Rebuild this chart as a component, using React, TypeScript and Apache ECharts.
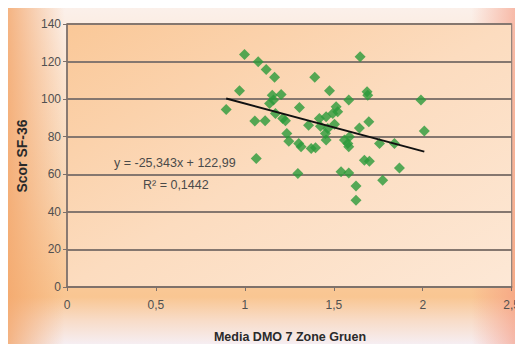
import React, { useEffect, useRef } from "react";
import * as echarts from "echarts";

// Mean DMO (7 Gruen zones) per patient
const dmoValues = [
  0.895, 0.97, 0.998, 1.056, 1.064, 1.075, 1.114, 1.12, 1.139, 1.154,
  1.167, 1.161, 1.172, 1.204, 1.213, 1.228, 1.236, 1.247, 1.298, 1.307,
  1.303, 1.316, 1.358, 1.373, 1.397, 1.393, 1.419, 1.425, 1.457, 1.453,
  1.466, 1.476, 1.457, 1.494, 1.513, 1.522, 1.504, 1.541, 1.56, 1.579,
  1.584, 1.584, 1.584, 1.588, 1.625, 1.625, 1.644, 1.648, 1.672, 1.687,
  1.691, 1.697, 1.7, 1.757, 1.775, 1.841, 1.869, 1.99, 2.009,
];

// SF-36 score per patient
const sf36Scores = [
  94.5, 104.5, 123.8, 88.3, 68.4, 119.9, 88.5, 115.8, 97.7, 102.1,
  111.6, 99.5, 92.4, 102.5, 89.7, 88.5, 81.7, 77.6, 60.4, 95.6,
  76.4, 74.6, 86.1, 73.7, 74.1, 111.6, 89.7, 85.6, 78.2, 81.7,
  84.4, 104.5, 90.6, 92.4, 95.9, 93.3, 86.7, 61.3, 78.2, 76.4,
  99.5, 74.6, 60.7, 80, 53.8, 46.2, 84.7, 122.6, 67.5, 103.9,
  102.1, 87.9, 67, 76.4, 56.8, 76.4, 63.4, 99.5, 83.1,
];

// Linear trend: y = slope * x + intercept
const trendSlope = -25.343;
const trendIntercept = 122.99;
const rSquared = 0.1442;

const xTicks = { min: 0, max: 2.5, interval: 0.5 };
const yTicks = { min: 0, max: 140, interval: 20 };

const fmt = (v: number) => String(v).replace(".", ",");

export default function App() {
  const ref = useRef<HTMLDivElement>(null);

  useEffect(() => {
    document.documentElement.style.overflow = "hidden";
    document.body.style.overflow = "hidden";
    if (!ref.current) return;
    const chart = echarts.init(ref.current, undefined, { renderer: "svg" });

    const points = dmoValues.map((x, i) => [x, sf36Scores[i]]);
    const xMin = Math.min(...dmoValues);
    const xMax = Math.max(...dmoValues);
    const trend = [xMin, xMax].map((x) => [x, trendSlope * x + trendIntercept]);

    const labelFont = '"Liberation Sans", Arial, sans-serif';
    const eqText = "y = " + fmt(trendSlope) + "x + " + fmt(trendIntercept);
    const r2Text = "R² = " + fmt(rSquared);

    chart.setOption({
      animation: false,
      grid: {
        left: 59,
        right: 10,
        top: 16,
        bottom: 57,
        show: true,
        borderColor: "#8e827c",
        borderWidth: 1.2,
        backgroundColor: new echarts.graphic.LinearGradient(0, 0, 1, 1, [
          { offset: 0, color: "#fac898" },
          { offset: 0.5, color: "#fcdcbf" },
          { offset: 1, color: "#fde8d6" },
        ]),
      },
      xAxis: {
        type: "value",
        min: xTicks.min,
        max: xTicks.max,
        interval: xTicks.interval,
        splitLine: { show: false },
        axisLine: { show: true, lineStyle: { color: "#7d706a", width: 1.6 } },
        axisTick: { show: true, length: 4, lineStyle: { color: "#7d706a" } },
        axisLabel: {
          margin: 12,
          color: "#505050",
          fontSize: 12,
          fontFamily: labelFont,
          formatter: (v: number) => fmt(v),
        },
      },
      yAxis: {
        type: "value",
        min: yTicks.min,
        max: yTicks.max,
        interval: yTicks.interval,
        splitLine: { show: true, lineStyle: { color: "#85776f", width: 2 } },
        axisLine: { show: true, lineStyle: { color: "#7d706a", width: 1.6 } },
        axisTick: { show: true, length: 4, lineStyle: { color: "#7d706a" } },
        axisLabel: {
          margin: 6,
          color: "#505050",
          fontSize: 12,
          fontFamily: labelFont,
        },
      },
      series: [
        {
          type: "scatter",
          data: points,
          symbol: "diamond",
          symbolSize: 11,
          itemStyle: { color: "#2b9a3a" },
          z: 3,
        },
        {
          type: "line",
          data: trend,
          showSymbol: false,
          symbol: "none",
          lineStyle: { color: "#111111", width: 2 },
          z: 4,
        },
      ],
      graphic: [
        {
          type: "text",
          left: 106,
          top: 148,
          style: {
            text: eqText,
            fill: "#4a4a4a",
            font: '12.5px "Liberation Sans", Arial, sans-serif',
          },
          z: 10,
        },
        {
          type: "text",
          left: 135,
          top: 170,
          style: {
            text: r2Text,
            fill: "#4a4a4a",
            font: '12.5px "Liberation Sans", Arial, sans-serif',
          },
          z: 10,
        },
        {
          type: "text",
          x: 14,
          y: 148,
          rotation: Math.PI / 2,
          style: {
            text: "Scor SF-36",
            fill: "#2a2a2a",
            font: 'bold 14px "Liberation Sans", Arial, sans-serif',
            textAlign: "center",
            textVerticalAlign: "middle",
          },
          z: 10,
        },
        {
          type: "text",
          x: 282,
          y: 329,
          style: {
            text: "Media DMO 7 Zone Gruen",
            fill: "#2a2a2a",
            font: 'bold 12.5px "Liberation Sans", Arial, sans-serif',
            textAlign: "center",
            textVerticalAlign: "middle",
          },
          z: 10,
        },
      ],
    });

    return () => chart.dispose();
  }, []);

  return (
    <div
      ref={ref}
      style={{
        width: 515,
        height: 336,
        background:
          "linear-gradient(to right, rgba(243,165,105,0.8) 0%, rgba(244,168,110,0) 11%, rgba(245,160,130,0) 90%, rgba(245,150,125,0.7) 100%), " +
          "linear-gradient(to bottom, #fbf0ea 0%, #fbe4d0 20%, #f9d6b4 55%, #f9c692 86%, #f8dcc8 93%, #f6eef2 100%)",
      }}
    />
  );
}
